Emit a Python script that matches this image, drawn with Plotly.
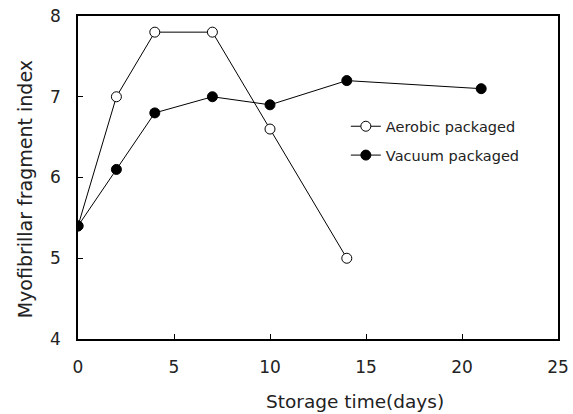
import plotly.graph_objects as go

days_aerobic = [0, 2, 4, 7, 10, 14]
mfi_aerobic = [5.4, 7.0, 7.8, 7.8, 6.6, 5.0]
days_vacuum = [0, 2, 4, 7, 10, 14, 21]
mfi_vacuum = [5.4, 6.1, 6.8, 7.0, 6.9, 7.2, 7.1]

fig = go.Figure()
fig.add_trace(go.Scatter(
    x=days_aerobic, y=mfi_aerobic, mode="lines+markers", name="Aerobic packaged",
    legendgroup="a",
    line=dict(color="black", width=1),
    marker=dict(symbol="circle", size=10, color="white", line=dict(color="black", width=1))))
fig.add_trace(go.Scatter(
    x=days_vacuum, y=mfi_vacuum, mode="lines+markers", name="Vacuum packaged",
    legendgroup="b",
    line=dict(color="black", width=1),
    marker=dict(symbol="circle", size=10, color="black", line=dict(color="black", width=1))))

axis_common = dict(showline=True, linecolor="black", linewidth=1.5, mirror=True,
                   ticks="inside", ticklen=5, tickcolor="black", showgrid=False,
                   zeroline=False, automargin=False, tickfont=dict(size=17, color="#222"))
fig.update_xaxes(range=[0, 25], dtick=5, ticklabelstandoff=12, **axis_common)
fig.update_yaxes(range=[4, 8], dtick=1, ticklabelstandoff=12, **axis_common)

fig.add_annotation(text="Storage time(days)", xref="paper", yref="paper",
                   x=0.577, y=-0.195, xanchor="center", yanchor="middle",
                   showarrow=False, font=dict(size=18.5, color="#222"))
fig.add_annotation(text="Myofibrillar fragment index", xref="paper", yref="paper",
                   x=-0.110, y=0.464, xanchor="center", yanchor="middle", textangle=-90,
                   showarrow=False, font=dict(size=19, color="#222"))

fig.update_layout(
    width=573, height=414,
    margin=dict(l=78, r=15, t=16, b=75),
    paper_bgcolor="white", plot_bgcolor="white",
    font=dict(family="DejaVu Sans, sans-serif", color="#222"),
    legend=dict(x=0.558, y=0.708, xanchor="left", yanchor="top", bgcolor="rgba(0,0,0,0)",
                font=dict(size=14.5), tracegroupgap=7),
    showlegend=True,
)
fig.write_html("out.html")
